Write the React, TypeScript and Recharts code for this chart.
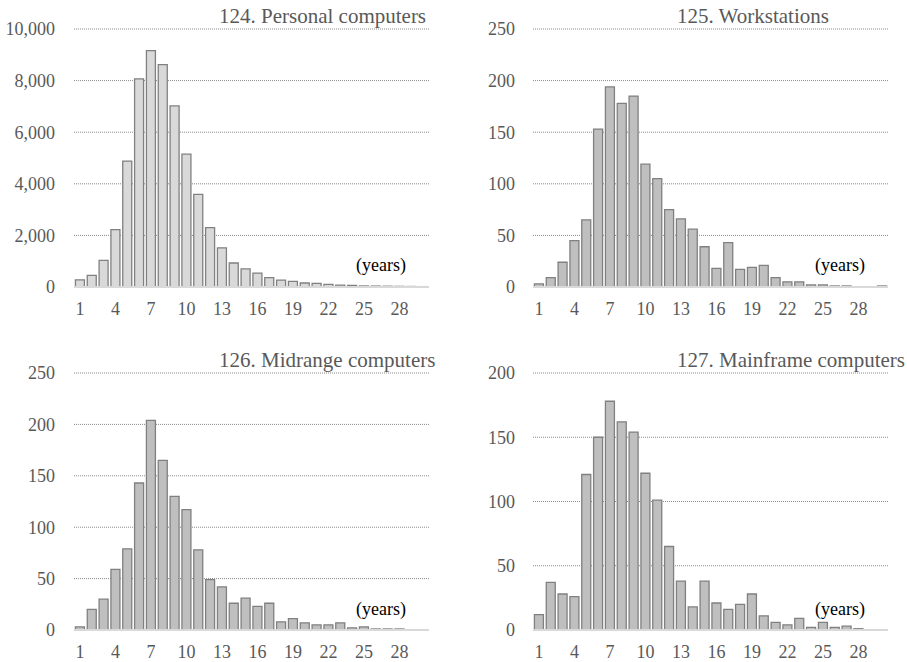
import React from 'react';
import { BarChart, Bar, XAxis, YAxis, CartesianGrid } from 'recharts';

const FONT = "'Liberation Serif', 'Times New Roman', serif";

const years: number[] = [1, 2, 3, 4, 5, 6, 7, 8, 9, 10, 11, 12, 13, 14, 15, 16, 17, 18, 19, 20, 21, 22, 23, 24, 25, 26, 27, 28, 29, 30];

const personalComputers: number[] = [280, 450, 1030, 2220, 4880, 8070, 9160, 8620, 7020, 5150, 3590, 2300, 1520, 930, 700, 540, 360, 270, 220, 155, 140, 105, 70, 60, 40, 35, 30, 25, 20, 15];
const workstations: number[] = [3, 9, 24, 45, 65, 153, 194, 178, 185, 119, 105, 75, 66, 56, 39, 18, 43, 17, 19, 21, 9, 5, 5, 2, 2, 1, 1, 0, 0, 1];
const midrangeComputers: number[] = [3, 20, 30, 59, 79, 143, 204, 165, 130, 117, 78, 49, 42, 26, 31, 23, 26, 8, 11, 7, 5, 5, 7, 2, 3, 1, 1, 1, 0, 0];
const mainframeComputers: number[] = [12, 37, 28, 26, 121, 150, 178, 162, 154, 122, 101, 65, 38, 18, 38, 21, 16, 20, 28, 11, 6, 4, 9, 2, 6, 2, 3, 1, 0, 0];

const pcTicks: number[] = [0, 2000, 4000, 6000, 8000, 10000];
const wsTicks: number[] = [0, 50, 100, 150, 200, 250];
const midTicks: number[] = [0, 50, 100, 150, 200, 250];
const mfTicks: number[] = [0, 50, 100, 150, 200];

const titles: string[] = ['124. Personal computers', '125. Workstations', '126. Midrange computers', '127. Mainframe computers'];
const unitLabel = '(years)';

const build = (vals: number[]) => years.map((y, i) => ({ year: y, value: vals[i] }));

type PanelProps = {
  values: number[];
  ticks: number[];
  fill: string;
  left: number;
  top: number;
  width: number;
  height: number;
  yWidth: number;
  right: number;
  marginTop: number;
  marginBottom: number;
  yTickMargin: number;
};

const fmt = (v: number) => v.toLocaleString('en-US');

const tickStyle = { fill: '#595959', fontSize: 18, fontFamily: FONT, style: { fontFamily: FONT } };

function Panel(p: PanelProps) {
  const data = build(p.values);
  const max = p.ticks[p.ticks.length - 1];
  return (
    <div style={{ position: 'absolute', left: p.left, top: p.top, fontFamily: FONT }}>
      <BarChart
        width={p.width}
        height={p.height}
        data={data}
        margin={{ top: p.marginTop, right: p.right, left: 0, bottom: p.marginBottom }}
        barCategoryGap="12%"
        style={{ fontFamily: FONT }}
      >
        <CartesianGrid vertical={false} stroke="#8a8a8a" strokeDasharray="1 1" strokeWidth={1} />
        <XAxis
          dataKey="year"
          interval={2}
          tickLine={false}
          tickSize={0}
          tickMargin={15}
          height={30}
          axisLine={{ stroke: '#d9d9d9', strokeWidth: 2 }}
          tick={tickStyle}
        />
        <YAxis
          width={p.yWidth}
          domain={[0, max]}
          ticks={p.ticks}
          interval={0}
          tickFormatter={fmt}
          axisLine={false}
          tickLine={false}
          tickSize={0}
          tickMargin={p.yTickMargin}
          tick={tickStyle}
        />
        <Bar dataKey="value" fill={p.fill} stroke="#808080" strokeWidth={1.3} isAnimationActive={false} />
      </BarChart>
    </div>
  );
}

const tStyle = { fontFamily: FONT };

export default function App() {
  return (
    <div style={{ position: 'absolute', left: 0, top: 0, width: 907, height: 662, background: '#fff', fontFamily: FONT }}>
      <Panel values={personalComputers} ticks={pcTicks} fill="#d9d9d9" left={0} top={0} width={453} height={320} yWidth={74} right={24} marginTop={29} marginBottom={3} yTickMargin={19} />
      <Panel values={workstations} ticks={wsTicks} fill="#bfbfbf" left={453} top={0} width={454} height={320} yWidth={80} right={19} marginTop={29} marginBottom={3} yTickMargin={18} />
      <Panel values={midrangeComputers} ticks={midTicks} fill="#bfbfbf" left={0} top={344} width={453} height={318} yWidth={74} right={24} marginTop={29} marginBottom={2} yTickMargin={19} />
      <Panel values={mainframeComputers} ticks={mfTicks} fill="#bfbfbf" left={453} top={344} width={454} height={318} yWidth={80} right={19} marginTop={29} marginBottom={2} yTickMargin={18} />
      <svg width={907} height={662} style={{ position: 'absolute', left: 0, top: 0, pointerEvents: 'none' }}>
        <text x={219} y={23} fontSize={21} fill="#595959" style={tStyle}>{titles[0]}</text>
        <text x={677} y={23} fontSize={21} fill="#595959" style={tStyle}>{titles[1]}</text>
        <text x={219} y={367} fontSize={21} fill="#595959" style={tStyle}>{titles[2]}</text>
        <text x={677} y={367} fontSize={21} fill="#595959" style={tStyle}>{titles[3]}</text>
        <text x={356} y={271} fontSize={18} fill="#000" style={tStyle}>{unitLabel}</text>
        <text x={815} y={271} fontSize={18} fill="#000" style={tStyle}>{unitLabel}</text>
        <text x={356} y={615} fontSize={18} fill="#000" style={tStyle}>{unitLabel}</text>
        <text x={815} y={615} fontSize={18} fill="#000" style={tStyle}>{unitLabel}</text>
      </svg>
    </div>
  );
}
